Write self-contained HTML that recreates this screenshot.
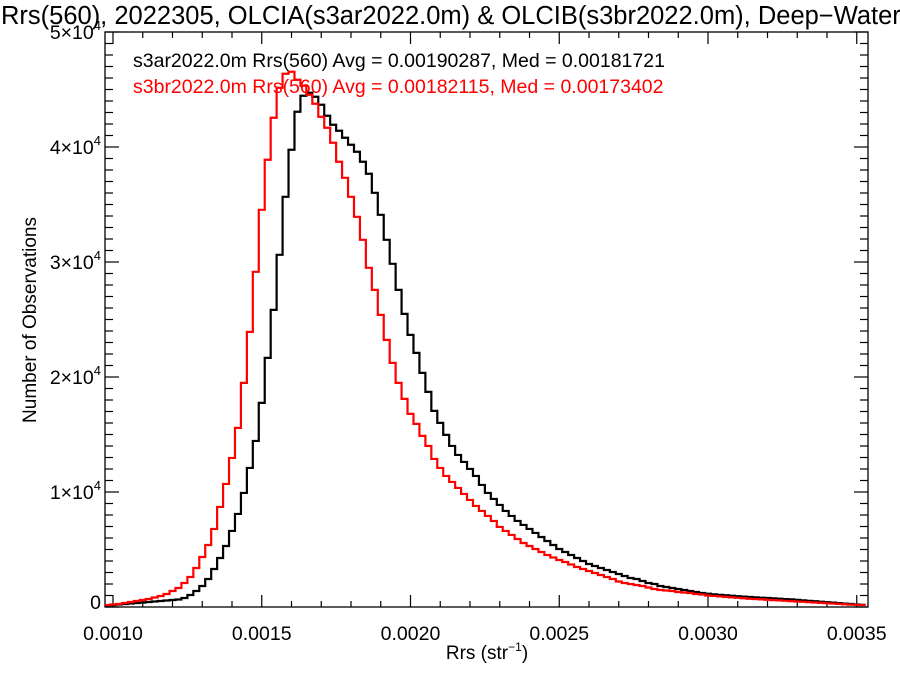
<!DOCTYPE html>
<html><head><meta charset="utf-8"><style>
html,body{margin:0;padding:0;background:#fff;overflow:hidden;}
svg{display:block;font-family:"Liberation Sans",Arial,sans-serif;}
</style></head><body>
<svg id="chart" width="900" height="675" viewBox="0 0 900 675" xmlns="http://www.w3.org/2000/svg">
<rect width="900" height="675" fill="#fff"/>
<text x="1" y="24" font-size="25.5" fill="#000">Rrs(560), 2022305, OLCIA(s3ar2022.0m) &amp; OLCIB(s3br2022.0m), Deep−Water</text>
<g id="axes"></g>
<g id="series"></g>
<text x="133" y="67" font-size="19.5" fill="#000">s3ar2022.0m Rrs(560) Avg = 0.00190287, Med = 0.00181721</text>
<text x="133" y="93" font-size="19.5" fill="#ff0000">s3br2022.0m Rrs(560) Avg = 0.00182115, Med = 0.00173402</text>
<text x="487" y="659" font-size="19" text-anchor="middle">Rrs (str<tspan font-size="12" dy="-8">−1</tspan><tspan dy="8">)</tspan></text>
<text transform="translate(36,320) rotate(-90)" font-size="19" text-anchor="middle">Number of Observations</text>
</svg>
<script>
const binStart = 0.00097;
const binWidth = 0.00002;
const seriesA = [130,174,218,261,305,348,392,435,479,522,566,609,653,783,1044,1392,1827,2436,3306,4263,5307,6612,8091,9918,12093,14442,17748,21663,25839,30624,35670,39759,43065,44457,44718,44370,43674,42717,41934,41412,40803,40194,39585,38715,37671,36018,34104,31929,29841,27579,25491,23664,22098,20358,18705,17052,16008,14964,14007,13224,12615,12006,11397,10614,9918,9396,8874,8352,7917,7482,7134,6786,6438,6090,5742,5394,5046,4785,4524,4263,4002,3741,3567,3393,3219,3045,2871,2697,2523,2436,2262,2088,2001,1827,1740,1653,1566,1479,1392,1305,1218,1150,1100,1060,1020,980,940,900,870,840,810,780,750,720,690,660,620,580,540,500,460,420,380,340,300,260,220,190];
const seriesB = [174,218,261,348,435,522,609,696,827,957,1131,1392,1653,2088,2610,3393,4350,5394,6786,8700,10701,12963,15573,19488,23925,29145,34539,38889,42543,45153,46371,46545,45849,45327,44544,43761,42630,41673,40368,38715,37323,35670,33930,31929,29493,27579,25404,23229,21228,19488,18096,16791,15921,14877,14007,12876,12093,11397,10875,10353,9831,9309,8787,8352,7917,7482,6960,6612,6264,5916,5568,5307,5046,4785,4524,4307,4089,3915,3698,3480,3306,3132,2958,2784,2610,2436,2219,2088,2001,1914,1827,1697,1566,1479,1436,1392,1305,1262,1218,1131,1088,1000,960,920,880,840,800,760,720,690,660,630,600,570,540,510,480,450,420,390,360,330,300,270,240,210,190,170];
const xTickValues = [0.0010,0.0015,0.0020,0.0025,0.0030,0.0035];
const xTickLabels = ["0.0010","0.0015","0.0020","0.0025","0.0030","0.0035"];
const yTickValues = [0,10000,20000,30000,40000,50000];
const yTickMantissa = ["0","1","2","3","4","5"];

const L=105,R=868,T=32,B=607;
const xS = v => 113 + (v-0.001)*297500;
const yS = v => B - v/50000*(B-T);
const NS="http://www.w3.org/2000/svg";
function mk(tag, attrs, parent){const e=document.createElementNS(NS,tag);for(const k in attrs)e.setAttribute(k,attrs[k]);parent.appendChild(e);return e;}
const axes=document.getElementById('axes');
const frame=mk('rect',{x:L,y:T,width:R-L,height:B-T,fill:'none',stroke:'#000','stroke-width':1.3},axes);


for(let k=0;k<=26;k++){
  const v=0.0010+k*0.0001; const x=xS(v); if(x>R) break;
  const major = k%5===0; const len = major?12:6;
  const t1=mk('line',{x1:x,x2:x,y1:B,y2:B-len,stroke:'#000','stroke-width':1.2},axes);
  
  
  const t2=mk('line',{x1:x,x2:x,y1:T,y2:T+len,stroke:'#000','stroke-width':1.2},axes);
  
  
}
xTickValues.forEach((v,i)=>{
  const t=mk('text',{x:xS(v),y:640,'font-size':19.5,'text-anchor':'middle'},axes);
  t.textContent=xTickLabels[i];
  
  
});
for(let k=0;k<=50;k++){
  const y=yS(k*1000); const major=k%10===0; const len=major?14:8;
  const a=mk('line',{x1:L,x2:L+len,y1:y,y2:y,stroke:'#000','stroke-width':1.2},axes);
  
  
  const b=mk('line',{x1:R,x2:R-len,y1:y,y2:y,stroke:'#000','stroke-width':1.2},axes);
  
  
}
yTickValues.forEach((v,i)=>{
  const t=mk('text',{x:101,y:yS(v)+7,'font-size':19.5,'text-anchor':'end'},axes);
  
  
  if(v===0){t.setAttribute('y',yS(v)+2);t.textContent='0';}
  else{
    t.textContent=yTickMantissa[i]+'×10';
    const s=document.createElementNS(NS,'tspan');s.setAttribute('font-size','13');s.setAttribute('dy','-9');s.textContent='4';t.appendChild(s);
  }
});
function stepPath(vals){
  let d='';
  vals.forEach((v,i)=>{
    const x0=Math.max(L,xS(binStart+i*binWidth)), x1=Math.min(R,xS(binStart+(i+1)*binWidth)), y=yS(v);
    d+=(i===0?'M':'L')+x0.toFixed(2)+','+y.toFixed(2)+'L'+x1.toFixed(2)+','+y.toFixed(2);
  });
  return d;
}
const ser=document.getElementById('series');
const pa=mk('path',{d:stepPath(seriesA),fill:'none',stroke:'#000','stroke-width':2.2},ser);


const pb=mk('path',{d:stepPath(seriesB),fill:'none',stroke:'#ff0000','stroke-width':2.2},ser);


</script>
</body></html>
